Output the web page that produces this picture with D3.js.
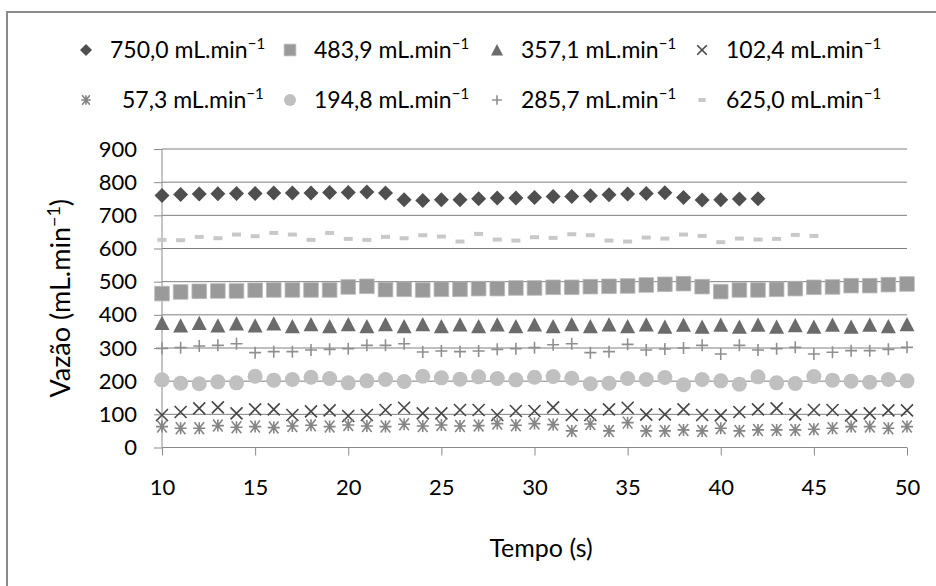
<!DOCTYPE html>
<html>
<head>
<meta charset="utf-8">
<script src="https://cdn.jsdelivr.net/npm/d3@7"></script>
<style>
  html, body { margin: 0; padding: 0; background: #fff; }
  svg { display: block; font-family: Lato, "Open Sans", sans-serif; }
  .tick text { font-size: 22px; fill: #000; }
</style>
</head>
<body>
<svg id="chart" width="936" height="586"></svg>
<script>
// Flow rate vs time, eight pump settings
const tempo = [10, 11, 12, 13, 14, 15, 16, 17, 18, 19, 20, 21, 22, 23, 24, 25, 26, 27, 28, 29,
  30, 31, 32, 33, 34, 35, 36, 37, 38, 39, 40, 41, 42, 43, 44, 45, 46, 47, 48, 49, 50];

const v750 = [760, 763, 764, 765, 766, 766, 767, 767, 767, 769, 769, 770, 767, 747, 745, 747, 747,
  750, 752, 752, 754, 757, 757, 759, 762, 764, 766, 768, 754, 746, 747, 749, 750];
const v484 = [464, 469, 471, 472, 472, 474, 475, 475, 475, 475, 484, 486, 476, 477, 475, 477, 477,
  479, 479, 481, 481, 483, 483, 485, 486, 487, 490, 492, 494, 485, 470, 475, 475, 477, 479, 483,
  484, 488, 488, 491, 493];
const v357 = [375, 367, 375, 367, 373, 367, 373, 365, 371, 365, 371, 365, 371, 365, 371, 365, 370,
  365, 370, 365, 370, 365, 371, 365, 370, 365, 370, 363, 369, 363, 369, 363, 369, 363, 368, 363,
  369, 363, 369, 365, 371];
const v102 = [98, 107, 118, 121, 103, 115, 115, 98, 109, 112, 95, 98, 113, 120, 103, 103, 113, 113,
  98, 110, 110, 121, 98, 98, 115, 120, 99, 100, 115, 98, 97, 107, 115, 118, 100, 113, 113, 97,
  103, 112, 112];
const v57 = [63, 58, 58, 66, 61, 63, 60, 65, 67, 63, 68, 65, 63, 70, 65, 68, 65, 66, 72, 67, 72, 69,
  50, 71, 50, 75, 50, 50, 53, 50, 58, 50, 53, 53, 53, 55, 58, 63, 63, 58, 63];
const v195 = [204, 194, 192, 198, 195, 215, 203, 205, 212, 208, 195, 201, 205, 199, 215, 210, 206,
  213, 208, 204, 212, 214, 209, 192, 194, 208, 205, 211, 189, 205, 201, 191, 213, 195, 193, 214,
  203, 200, 197, 205, 201];
const v286 = [299, 301, 306, 308, 313, 286, 289, 289, 294, 296, 298, 308, 308, 313, 288, 291, 289,
  291, 296, 298, 301, 310, 313, 286, 289, 311, 294, 297, 300, 308, 282, 308, 294, 298, 302, 282,
  287, 292, 292, 296, 302];
const v625 = [626, 625, 635, 631, 642, 637, 647, 642, 626, 647, 629, 626, 635, 631, 640, 636, 621,
  644, 627, 624, 634, 632, 643, 640, 624, 621, 633, 630, 642, 638, 619, 630, 627, 629, 641, 638];

const seriesLabels = ['750,0', '483,9', '357,1', '102,4', '57,3', '194,8', '285,7', '625,0'];
const yTicks = [0, 100, 200, 300, 400, 500, 600, 700, 800, 900];
const xTicks = [10, 15, 20, 25, 30, 35, 40, 45, 50];

// marker shapes, each centred on its point
const shapes = {
  diamond: r => `M0,${-r}L${r},0L0,${r}L${-r},0Z`,
  square: r => `M${-r},${-r}H${r}V${r}H${-r}Z`,
  triangle: r => `M0,${-r}L${r},${r * 0.9}L${-r},${r * 0.9}Z`,
  cross: r => `M${-r},${-r}L${r},${r}M${r},${-r}L${-r},${r}`,
  star: r => `M${-r * 0.8},${-r}L${r * 0.8},${r}M${r * 0.8},${-r}L${-r * 0.8},${r}M0,${-r}V${r}M${-r},0H${r}`,
  circle: r => `M${r},0A${r},${r} 0 1,1 ${-r},0A${r},${r} 0 1,1 ${r},0Z`,
  plus: r => `M${-r},0H${r}M0,${-r}V${r}`,
  dash: r => `M${-r},-2H${r}V2H${-r}Z`
};

const series = [
  { values: v750, shape: 'diamond', r: 7.5, fill: '#4f4f4f', stroke: 'none', sw: 0 },
  { values: v484, shape: 'square', r: 7.3, fill: '#9a9a9a', stroke: '#b8b8b8', sw: 0.8 },
  { values: v357, shape: 'triangle', r: 7.5, fill: '#6b6b6b', stroke: 'none', sw: 0 },
  { values: v102, shape: 'cross', r: 6, fill: 'none', stroke: '#474747', sw: 1.6 },
  { values: v57, shape: 'star', r: 6, fill: 'none', stroke: '#858585', sw: 1.6 },
  { values: v195, shape: 'circle', r: 7.5, fill: '#c0c0c0', stroke: 'none', sw: 0 },
  { values: v286, shape: 'plus', r: 6, fill: 'none', stroke: '#8f8f8f', sw: 1.6 },
  { values: v625, shape: 'dash', r: 4.5, fill: '#c8c8c8', stroke: 'none', sw: 0 }
];

const svg = d3.select('#chart');
const W = 936, H = 586;
const plot = { left: 162, right: 907, top: 149, bottom: 447.5 };

// outer chart frame (only left and top edges fall inside the picture)
svg.append('path')
  .attr('d', `M7,${H}V12H${W}`)
  .attr('fill', 'none').attr('stroke', '#8a8a8a').attr('stroke-width', 2);

const x = d3.scaleLinear().domain([10, 50]).range([plot.left, plot.right]);
const y = d3.scaleLinear().domain([0, 900]).range([plot.bottom, plot.top]);

// gridlines
svg.append('g').selectAll('line').data(yTicks.filter(d => d > 0)).join('line')
  .attr('x1', plot.left).attr('x2', plot.right)
  .attr('y1', d => y(d)).attr('y2', d => y(d))
  .attr('stroke', '#7f7f7f').attr('stroke-width', 1);

const yAxis = svg.append('g').attr('transform', `translate(${plot.left},0)`)
  .call(d3.axisLeft(y).tickValues(yTicks).tickSize(8).tickPadding(17));
const xAxis = svg.append('g').attr('transform', `translate(0,${plot.bottom})`)
  .call(d3.axisBottom(x).tickValues(xTicks).tickSize(8).tickPadding(24));
[yAxis, xAxis].forEach(a => {
  a.select('.domain').attr('stroke', '#8a8a8a');
  a.selectAll('.tick line').attr('stroke', '#8a8a8a');
  a.selectAll('.tick text').attr('font-family', 'Lato, sans-serif');
});
xAxis.select('.domain').attr('d', `M${plot.left},0H${plot.right}`);
yAxis.select('.domain').attr('d', `M0,${plot.bottom}V${plot.top}`);

// marks
series.forEach(s => {
  svg.append('g').selectAll('path').data(s.values).join('path')
    .attr('transform', (d, i) => `translate(${x(tempo[i])},${y(d)})`)
    .attr('d', shapes[s.shape](s.r))
    .attr('fill', s.fill).attr('stroke', s.stroke).attr('stroke-width', s.sw);
});

// legend: two rows of four
const legX = [86, 290, 497, 702];
const legY = [50, 100];
series.forEach((s, i) => {
  const cx = legX[i % 4], cy = legY[Math.floor(i / 4)];
  const g = svg.append('g').attr('transform', `translate(${cx},${cy})`);
  g.append('path').attr('d', shapes[s.shape](s.r * 0.8))
    .attr('fill', s.fill).attr('stroke', s.stroke).attr('stroke-width', s.sw);
  const t = g.append('text').attr('x', seriesLabels[i].length < 5 ? 36 : 24).attr('y', 8)
    .attr('font-size', 23).attr('fill', '#000');
  t.append('tspan').text(seriesLabels[i] + ' mL.min');
  t.append('tspan').attr('dy', -9).attr('font-size', 15).text('−1');
});

// axis titles
const yt = svg.append('text')
  .attr('transform', `translate(70,${(plot.top + plot.bottom) / 2}) rotate(-90)`)
  .attr('text-anchor', 'middle').attr('font-size', 27);
yt.append('tspan').text('Vazão (mL.min');
yt.append('tspan').attr('dy', -10).attr('font-size', 18).text('−1');
yt.append('tspan').attr('dy', 10).text(')');

svg.append('text').attr('x', 541).attr('y', 557)
  .attr('text-anchor', 'middle').attr('font-size', 25).text('Tempo (s)');
</script>
</body>
</html>
